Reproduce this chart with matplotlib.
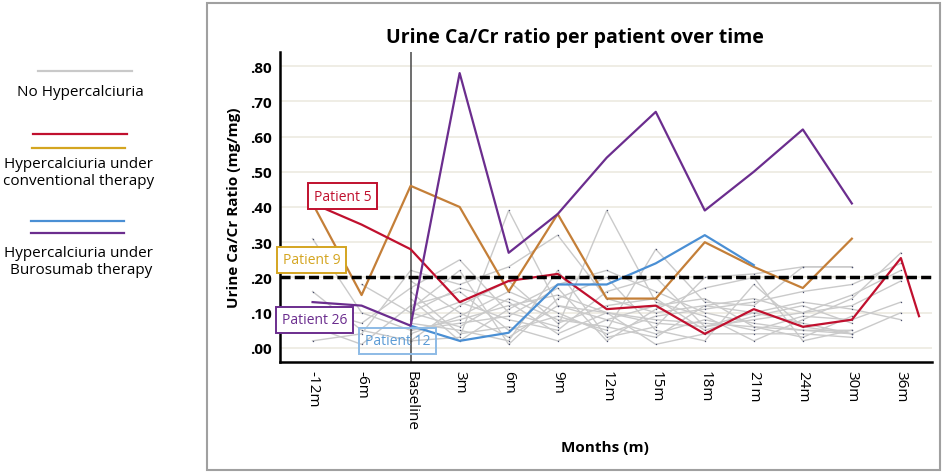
#!/usr/bin/env python3
"""Urine Ca/Cr ratio per patient over time (spaghetti plot)."""
import numpy as np
import matplotlib
matplotlib.use("Agg")
import matplotlib.pyplot as plt
from matplotlib.lines import Line2D
from matplotlib.patches import Rectangle

plt.rcParams['font.family'] = ['Open Sans', 'DejaVu Sans']

nan = np.nan
months = ["-12m", "-6m", "Baseline", "3m", "6m", "9m", "12m", "15m",
          "18m", "21m", "24m", "30m", "36m"]
yticks = [0.0, 0.1, 0.2, 0.3, 0.4, 0.5, 0.6, 0.7, 0.8]
threshold = 0.20

# highlighted patients
p5_x = [0, 1, 2, 3, 4, 5, 6, 7, 8, 9, 10, 11, 12, 12.37]
p5_y = [0.41, 0.35, 0.28, 0.13, 0.19, 0.21, 0.11, 0.12, 0.04, 0.11, 0.06, 0.08, 0.255, 0.09]
p9_y = [0.41, 0.15, 0.46, 0.40, 0.16, 0.38, 0.14, 0.14, 0.30, 0.23, 0.17, 0.31, nan]
p26_y = [0.13, 0.12, 0.063, 0.78, 0.27, 0.38, 0.54, 0.67, 0.39, 0.50, 0.62, 0.41, nan]
p12_y = [nan, nan, 0.063, 0.02, 0.043, 0.18, 0.18, 0.24, 0.32, 0.235, nan, nan, nan]

# patients without hypercalciuria
grey = [
    [0.31, 0.10, 0.05, 0.08, 0.12, 0.15, 0.10, 0.08, 0.07, 0.06, 0.05, 0.05, nan],
    [0.16, 0.05, 0.02, 0.03, 0.39, 0.12, 0.10, 0.07, 0.06, 0.08, 0.10, 0.12, 0.19],
    [0.11, 0.07, 0.17, 0.25, 0.10, 0.06, 0.39, 0.13, 0.09, 0.02, 0.08, 0.14, 0.27],
    [0.02, 0.04, 0.22, 0.18, 0.23, 0.32, 0.14, 0.10, 0.12, 0.10, 0.07, 0.04, nan],
    [0.06, 0.01, 0.12, 0.16, 0.05, 0.09, 0.05, 0.28, 0.13, 0.12, 0.23, 0.23, nan],
    [nan, nan, 0.14, 0.02, 0.11, 0.18, 0.22, 0.16, 0.10, 0.07, 0.05, 0.04, 0.10],
    [nan, 0.18, 0.10, 0.06, 0.14, 0.08, 0.06, 0.03, 0.12, 0.14, 0.10, 0.15, 0.22],
    [nan, nan, 0.08, 0.13, 0.08, 0.05, 0.16, 0.20, 0.06, 0.10, 0.13, 0.11, 0.08],
    [nan, nan, 0.19, 0.10, 0.03, 0.12, 0.08, 0.04, 0.08, 0.05, 0.09, 0.08, 0.13],
    [nan, nan, 0.04, 0.09, 0.16, 0.10, 0.04, 0.09, 0.11, 0.13, 0.16, 0.18, 0.24],
    [nan, nan, 0.11, 0.22, 0.01, 0.14, 0.20, 0.05, 0.02, 0.18, 0.06, 0.04, nan],
    [nan, nan, 0.16, 0.04, 0.06, 0.02, 0.08, 0.12, 0.14, 0.06, 0.03, 0.09, nan],
    [nan, nan, 0.02, 0.12, 0.19, 0.07, 0.12, 0.14, 0.05, 0.09, 0.12, 0.07, nan],
    [nan, nan, 0.07, 0.05, 0.02, 0.22, 0.03, 0.06, 0.20, 0.21, 0.23, 0.23, nan],
    [nan, nan, 0.10, 0.17, 0.13, 0.04, 0.10, 0.01, 0.04, 0.04, 0.04, 0.03, nan],
    [nan, nan, 0.05, 0.07, 0.09, 0.17, 0.02, 0.11, 0.17, 0.20, 0.02, 0.05, nan],
]

RED = "#C0102E"
ORANGE = "#C47F38"
PURPLE = "#6B2D8E"
BLUE = "#4A8FD4"
GOLD = "#D4A520"
LBLUE = "#8DBBE6"

fig = plt.figure(figsize=(9.45, 4.77), dpi=100)
ax = fig.add_axes([0.296, 0.239, 0.69, 0.65])
x = np.arange(len(months))

for yv in yticks:
    ax.axhline(yv, color="#ECEAE0", lw=1.2, zorder=0)

for g in grey:
    ax.plot(x, g, color="#CACACA", lw=1.0, zorder=1)
    ax.plot(x, g, ls="none", marker="s", ms=0.9, mew=0, color="#4A4F6C", zorder=1.5)

ax.axvline(2, color="#555555", lw=1.2, zorder=2)
ax.axhline(threshold, color="black", lw=2.5, ls=(0, (2.9, 1.2)), zorder=4)

ax.plot(x, p9_y, color=ORANGE, lw=1.6, zorder=3)
ax.plot(p5_x, p5_y, color=RED, lw=1.6, zorder=3)
ax.plot(x, p12_y, color=BLUE, lw=1.6, zorder=3)
ax.plot(x, p26_y, color=PURPLE, lw=1.6, zorder=3)

# patient labels
box = dict(boxstyle="square,pad=0.4", fc="white", lw=1.4)
ax.text(0.61, 0.43, "Patient 5", color=RED, fontsize=10, ha="center", va="center",
        bbox=dict(box, ec=RED), zorder=5)
ax.text(-0.02, 0.25, "Patient 9", color=GOLD, fontsize=10, ha="center", va="center",
        bbox=dict(box, ec=GOLD), zorder=5, clip_on=False)
ax.text(0.04, 0.08, "Patient 26", color=PURPLE, fontsize=10, ha="center", va="center",
        bbox=dict(box, ec=PURPLE), zorder=5, clip_on=False)
ax.text(1.73, 0.02, "Patient 12", color="#5B9BD5", fontsize=10, ha="center", va="center",
        bbox=dict(boxstyle="square,pad=0.4", fc="none", ec=LBLUE, lw=1.4), zorder=5)

ax.set_xlim(-0.67, 12.63)
ax.set_ylim(-0.04, 0.84)
ax.set_xticks(x)
ax.set_xticklabels(months, rotation=270, fontsize=11)
ax.set_yticks(yticks)
ax.set_yticklabels([f"{v:.2f}"[1:] for v in yticks], fontsize=11, fontweight="bold")
ax.tick_params(length=0, pad=6)
for s in ("top", "right"):
    ax.spines[s].set_visible(False)
for s in ("left", "bottom"):
    ax.spines[s].set_linewidth(1.8)
ax.set_ylabel("Urine Ca/Cr Ratio (mg/mg)", fontsize=11, fontweight="bold", labelpad=6)
fig.text(0.640, 0.061, "Months (m)", fontsize=11, fontweight="bold", ha="center", va="center")
fig.text(0.608, 0.921, "Urine Ca/Cr ratio per patient over time", fontsize=14,
         fontweight="bold", ha="center", va="center")

# outer frame
fig.add_artist(Rectangle((0.219, 0.013), 0.776, 0.979, transform=fig.transFigure,
                         fill=False, ec="#A0A0A0", lw=1.5))


# legend on the left
def fig_line(x0, x1, y, color):
    fig.add_artist(Line2D([x0 / 945, x1 / 945], [1 - y / 477, 1 - y / 477],
                          color=color, lw=1.6, transform=fig.transFigure))


fig_line(38, 132, 72, "#C9C9C9")
fig.text(80 / 945, 1 - 93 / 477, "No Hypercalciuria", fontsize=11, ha="center", va="center")
fig_line(33, 127, 135, RED)
fig_line(32, 125, 149, GOLD)
fig.text(79 / 945, 1 - 173 / 477, "Hypercalciuria under\nconventional therapy",
         fontsize=11, ha="center", va="center", linespacing=1.2)
fig_line(31, 124, 222, BLUE)
fig_line(31, 124, 234, PURPLE)
fig.text(79 / 945, 1 - 262 / 477, "Hypercalciuria under\n Burosumab therapy",
         fontsize=11, ha="center", va="center", linespacing=1.2)

fig.savefig("out.png", dpi=100)
